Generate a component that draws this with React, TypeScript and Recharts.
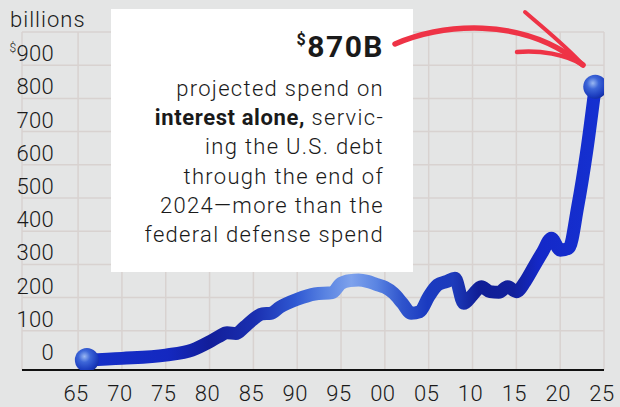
import React from "react";
import { LineChart, Line, XAxis, YAxis, CartesianGrid } from "recharts";

// net interest outlays, $ billions
const years = [
  1966, 1970, 1975, 1978, 1980, 1981, 1982, 1983, 1984, 1985, 1986, 1987, 1988, 1990, 1992, 1994,
  1995, 1996, 1997, 1998, 1999, 2000, 2001, 2002, 2003, 2004, 2005, 2006, 2007, 2008, 2009, 2010,
  2011, 2012, 2013, 2014, 2015, 2016, 2017, 2018, 2019, 2020, 2021, 2022, 2023, 2024,
];
const interest = [
  12, 17, 27, 42, 67, 82, 94, 92, 112, 135, 151, 153, 171, 195, 211, 215,
  243, 251, 253, 249, 240, 231, 213, 183, 153, 158, 203, 238, 248, 258, 183, 208,
  233, 218, 216, 233, 218, 248, 293, 338, 379, 343, 349, 474, 636, 835,
];
const xTicks = [1965, 1970, 1975, 1980, 1985, 1990, 1995, 2000, 2005, 2010, 2015, 2020, 2025];
const yTicks = [0, 100, 200, 300, 400, 500, 600, 700, 800, 900];
const gridValues = [100, 200, 300, 400, 500, 600, 700, 800, 900, 1000];

const data = years.map((year, i) => ({ year, value: interest[i] }));

const FONT = "Roboto, 'Liberation Sans', sans-serif";
const INK = "#1a1a1a";

const YTick = ({ y, payload }: any) => {
  const v = payload.value;
  return (
    <text x={54} y={y - 4} textAnchor="end" fontFamily={FONT} fontWeight={300} fontSize={22} letterSpacing={0.3} fill={INK}>
      {v === 900 ? (
        <>
          <tspan fontSize={12} dy={-9}>$</tspan>
          <tspan dy={9}>{v}</tspan>
        </>
      ) : (
        v
      )}
    </text>
  );
};

const XTick = ({ x, payload }: any) => (
  <text x={x - 2} y={401} textAnchor="middle" fontFamily={FONT} fontWeight={300} fontSize={22} letterSpacing={0.5} fill={INK}>
    {String(payload.value % 100).padStart(2, "0")}
  </text>
);

const Ball = (props: any) => {
  const { cx, cy, index } = props;
  if (index !== 0 && index !== data.length - 1) return <g key={`d-${index}`} />;
  return <circle key={`d-${index}`} cx={cx} cy={cy} r={12} fill="url(#ball)" />;
};

export default function App() {
  return (
    <div
      style={{
        position: "absolute",
        left: 0,
        top: 0,
        width: 620,
        height: 407,
        background: "#e4e5e5",
        overflow: "hidden",
      }}
    >
      <LineChart width={620} height={407} data={data} margin={{ top: 32, right: 16, bottom: 7, left: 0 }}>
        <defs>
          <linearGradient id="tube" x1="0" y1="0" x2="1" y2="0">
            <stop offset="0" stopColor="#1530c8" />
            <stop offset="0.16" stopColor="#1428c0" />
            <stop offset="0.24" stopColor="#121e9a" />
            <stop offset="0.33" stopColor="#1a2fb0" />
            <stop offset="0.41" stopColor="#2f58d2" />
            <stop offset="0.47" stopColor="#5a84e2" />
            <stop offset="0.52" stopColor="#7ea2ec" />
            <stop offset="0.57" stopColor="#5a84e2" />
            <stop offset="0.62" stopColor="#2f54cc" />
            <stop offset="0.67" stopColor="#1a3ac0" />
            <stop offset="0.72" stopColor="#1d3bbb" />
            <stop offset="0.77" stopColor="#101e96" />
            <stop offset="0.84" stopColor="#12209c" />
            <stop offset="0.89" stopColor="#1428c8" />
            <stop offset="1" stopColor="#1530d0" />
          </linearGradient>
          <radialGradient id="ball" cx="0.4" cy="0.35" r="0.7">
            <stop offset="0" stopColor="#9ab8f2" />
            <stop offset="0.35" stopColor="#3d66d8" />
            <stop offset="0.8" stopColor="#1a3bbd" />
            <stop offset="1" stopColor="#122c9a" />
          </radialGradient>
        </defs>
        <CartesianGrid stroke="#d8d2d0" strokeWidth={1.5} horizontalValues={gridValues} />
        <XAxis
          dataKey="year"
          type="number"
          domain={[1958.6, 2025]}
          allowDataOverflow
          ticks={xTicks}
          tick={<XTick />}
          height={30}
          tickLine={false}
          axisLine={{ stroke: "#111", strokeWidth: 2 }}
        />
        <YAxis
          type="number"
          domain={[-18, 1000]}
          allowDataOverflow
          ticks={yTicks}
          tick={<YTick />}
          interval={0}
          width={22}
          axisLine={false}
          tickLine={false}
        />
        <Line
          type="monotone"
          dataKey="value"
          stroke="url(#tube)"
          strokeWidth={13}
          strokeLinejoin="round"
          strokeLinecap="round"
          dot={Ball}
          activeDot={false}
          isAnimationActive={false}
        />
      </LineChart>

      <svg width={620} height={407} style={{ position: "absolute", left: 0, top: 0 }}>
        <text x={10} y={27} fontFamily={FONT} fontWeight={300} fontSize={22} letterSpacing={1} fill={INK}>
          billions
        </text>
        <rect x={111} y={9} width={302} height={263} fill="#ffffff" />
        <g fontFamily={FONT} fill={INK} textAnchor="end">
          <text x={384} y={57} fontWeight={700} fontSize={30} letterSpacing={1.5}>
            <tspan fontSize={16} dy={-12}>$</tspan>
            <tspan dy={12}>870B</tspan>
          </text>
          <g fontWeight={300} fontSize={22} letterSpacing={1.3}>
            <text x={384} y={96}>projected spend on</text>
            <text x={384} y={125}>
              <tspan fontWeight={700} letterSpacing={0.6}>interest alone,</tspan> servic-
            </text>
            <text x={384} y={154}>ing the U.S. debt</text>
            <text x={384} y={184}>through the end of</text>
            <text x={384} y={213}>2024—more than the</text>
            <text x={384} y={242}>federal defense spend</text>
          </g>
        </g>
        <g fill="none" stroke="#ee3346" strokeLinecap="round">
          <path d="M395,44 C440,25 520,14 583,65" strokeWidth={5.5} />
          <path d="M525,12 C548,32 568,48 583,65" strokeWidth={4} />
          <path d="M517,52 C540,50 565,54 583,65" strokeWidth={4.5} />
        </g>
      </svg>
    </div>
  );
}
